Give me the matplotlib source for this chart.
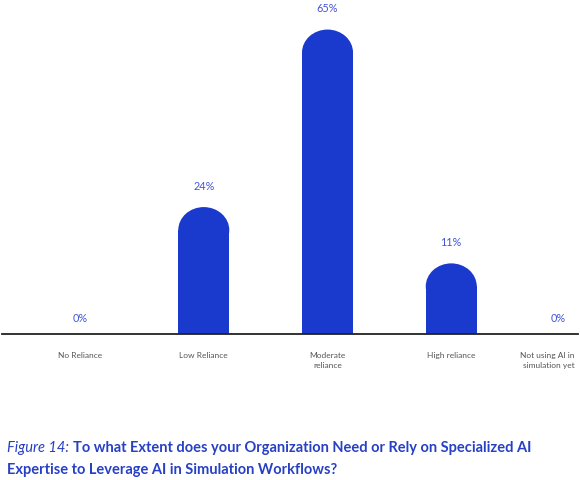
import matplotlib
matplotlib.use('Agg')
import matplotlib.pyplot as plt
from matplotlib.patches import Ellipse

categories = ['No Reliance', 'Low Reliance', 'Moderate\nreliance',
              'High reliance', 'Not using AI in\nsimulation yet']
values = [0, 24, 65, 11, 0]

BAR_COLOR = '#1a3acd'
LABEL_COLOR = '#4255d8'
TITLE_COLOR = '#2740c4'
FONT = ['Lato', 'DejaVu Sans']

W, H = 580, 480
fig = plt.figure(figsize=(W / 100, H / 100), dpi=100)
# axes spans the baseline line (x 2..578 px), baseline at y=334 px from top
ax = fig.add_axes([2 / W, (H - 334) / H, 576 / W, 334 / H])

spacing_px = 123.7
ax.set_xlim(-78 / spacing_px, 4 + 3 / spacing_px)
px_per_unit = 4.33
ax.set_ylim(0, 334 / px_per_unit)

bar_w = 51 / spacing_px
cap_h = 2 * 23 / px_per_unit
xs = list(range(len(categories)))

for x, v in zip(xs, values):
    if v > 0:
        ax.bar(x, v, width=bar_w, color=BAR_COLOR, edgecolor='none')
        ax.add_patch(Ellipse((x, v), bar_w, cap_h, color=BAR_COLOR, lw=0))
        ytxt = v + cap_h / 2 + 21 / px_per_unit
    else:
        ytxt = 16 / px_per_unit
    dx = -17 if x == xs[-1] else 0
    ax.annotate(f'{v}%', (x, ytxt), xytext=(dx * 0.72, 0),
                textcoords='offset points', ha='center', va='center',
                fontsize=7.8, color=LABEL_COLOR, family=FONT)

for s in ['top', 'right', 'left']:
    ax.spines[s].set_visible(False)
ax.spines['bottom'].set_color('#222222')
ax.spines['bottom'].set_linewidth(1.3)
ax.set_yticks([])
ax.set_xticks(xs)
ax.set_xticklabels(categories, fontsize=6.0, color='#555555', family=FONT,
                   linespacing=1.45)
ax.tick_params(axis='x', length=0, pad=13)
lbl = ax.get_xticklabels()[-1]
lbl.set_horizontalalignment('right')
lbl.set_x(4 - 3 / spacing_px)

# caption
t1 = fig.text(7 / W, 1 - 448 / H, 'Figure 14:', fontsize=10.5, style='italic',
              color=TITLE_COLOR, family=FONT, va='center')
fig.canvas.draw()
bb = t1.get_window_extent()
fig.text((bb.x1 + 4) / W, 1 - 448 / H,
         'To what Extent does your Organization Need or Rely on Specialized AI',
         fontsize=10.5, weight='bold', color=TITLE_COLOR, family=FONT, va='center')
fig.text(7 / W, 1 - 470 / H,
         'Expertise to Leverage AI in Simulation Workflows?',
         fontsize=10.5, weight='bold', color=TITLE_COLOR, family=FONT, va='center')

fig.savefig('out.png', dpi=100)
